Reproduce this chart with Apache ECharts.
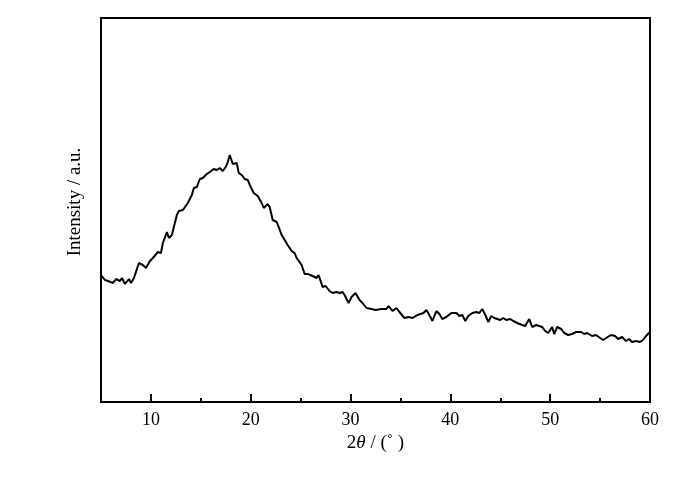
<!DOCTYPE html>
<html>
<head>
<meta charset="utf-8">
<script src="https://cdn.jsdelivr.net/npm/echarts@6/dist/echarts.min.js"></script>
<style>
  html, body { margin: 0; padding: 0; background: #fff; }
  #chart { width: 700px; height: 481px; }
</style>
</head>
<body>
<div id="chart"></div>
<script>
// --- Data ---
const twoTheta = [
  5.0, 5.4, 5.7, 6.2, 6.5, 6.9, 7.1, 7.4, 7.8, 8.0, 8.3, 8.8, 9.2, 9.5, 9.9,
  10.2, 10.4, 10.7, 11.0, 11.2, 11.6, 11.8, 12.1, 12.3, 12.6, 12.8, 13.2, 13.4, 13.7,
  14.1, 14.3, 14.6, 14.9, 15.2, 15.6, 15.9, 16.1, 16.3, 16.6, 16.9, 17.2, 17.5, 17.7,
  17.9, 18.2, 18.6, 18.8, 19.1, 19.4, 19.7, 20.0, 20.3, 20.7, 21.1, 21.3, 21.7, 21.9,
  22.2, 22.6, 22.8, 23.1, 23.4, 23.7, 24.1, 24.4, 24.6, 25.1, 25.4, 25.7, 26.2, 26.6,
  26.8, 27.2, 27.5, 27.9, 28.2, 28.6, 28.9, 29.2, 29.4, 29.8, 30.1, 30.5, 30.9, 31.2,
  31.6, 32.1, 32.5, 32.7, 33.1, 33.6, 33.8, 34.2, 34.6, 34.9, 35.4, 35.8, 36.2, 36.7,
  36.9, 37.3, 37.6, 38.0, 38.2, 38.6, 38.9, 39.2, 39.6, 40.1, 40.3, 40.6, 40.9, 41.2,
  41.5, 41.8, 42.2, 42.6, 42.9, 43.2, 43.5, 43.8, 44.1, 44.4, 44.6, 45.0, 45.3, 45.6,
  46.0, 46.3, 46.7, 47.2, 47.5, 47.9, 48.2, 48.6, 49.2, 49.5, 49.8, 50.2, 50.4, 50.7,
  51.1, 51.4, 51.8, 52.2, 52.6, 53.1, 53.4, 53.7, 54.2, 54.6, 55.0, 55.3, 55.6, 56.1,
  56.5, 56.8, 57.2, 57.6, 57.9, 58.2, 58.6, 59.0, 59.3, 59.6, 60.0
];
const intensity = [
  127, 122, 121, 119, 123, 121, 124, 118, 123, 119, 124, 139, 137, 134, 141,
  144, 142, 150, 149, 159, 170, 164, 167, 165, 187, 191, 192, 190, 199,
  207, 214, 215, 223, 224, 228, 230, 229, 233, 232, 234, 231, 235, 240,
  247, 238, 239, 229, 227, 223, 222, 215, 209, 206, 199, 194, 198, 195,
  182, 180, 175, 167, 162, 157, 151, 149, 144, 137, 128, 128, 126, 124,
  127, 115, 116, 111, 109, 110, 109, 110, 107, 99, 105, 109, 102, 99,
  94, 93, 92, 90, 93, 93, 96, 91, 94, 90, 84, 85, 84, 87,
  86, 89, 92, 85, 81, 91, 88, 83, 85, 89, 87, 89, 86, 87,
  81, 86, 89, 90, 89, 93, 87, 80, 86, 84, 86, 82, 84, 82,
  83, 81, 79, 77, 76, 83, 75, 77, 75, 71, 69, 75, 68, 75,
  73, 69, 67, 68, 70, 70, 68, 69, 66, 67, 64, 62, 64, 67,
  66, 63, 65, 61, 63, 60, 61, 60, 62, 66, 70
];
const majorTicks = [10, 20, 30, 40, 50, 60];
const minorTicks = [15, 25, 35, 45, 55];

const chart = echarts.init(document.getElementById('chart'));
const font = 'Liberation Serif, Times New Roman, serif';

chart.setOption({
  animation: false,
  backgroundColor: '#fff',
  grid: {
    left: 101, right: 50, top: 18, bottom: 79,
    show: true, borderColor: '#000', borderWidth: 2, backgroundColor: 'transparent'
  },
  xAxis: [{
    type: 'value', min: 5, max: 60,
    axisLine: { show: false },
    splitLine: { show: false },
    axisTick: { show: true, inside: true, length: 8, customValues: majorTicks, lineStyle: { color: '#000', width: 2 } },
    axisLabel: { customValues: majorTicks, color: '#000', fontFamily: font, fontSize: 18, margin: 9 },
    name: '{n|2}{t|θ}{n| / (˚ )}',
    nameLocation: 'middle',
    nameGap: 27,
    nameTextStyle: {
      rich: {
        n: { fontFamily: font, fontSize: 19, color: '#000' },
        t: { fontFamily: font, fontSize: 19, fontStyle: 'italic', color: '#000' }
      }
    }
  }, {
    type: 'value', min: 5, max: 60, position: 'bottom',
    axisLine: { show: false },
    splitLine: { show: false },
    axisLabel: { show: false },
    axisTick: { show: true, inside: true, length: 4, customValues: minorTicks, lineStyle: { color: '#000', width: 2 } }
  }],
  yAxis: {
    type: 'value', min: 0, max: 384,
    axisLine: { show: false },
    axisTick: { show: false },
    axisLabel: { show: false },
    splitLine: { show: false },
    name: 'Intensity / a.u.',
    nameLocation: 'middle',
    nameGap: 16,
    nameTextStyle: { fontFamily: font, fontSize: 19, color: '#000', padding: [0, 0, 0, 16] }
  },
  series: [{
    type: 'line',
    data: twoTheta.map((t, i) => [t, intensity[i]]),
    showSymbol: false,
    lineStyle: { color: '#000', width: 2 },
    z: 3
  }]
});
</script>
</body>
</html>
